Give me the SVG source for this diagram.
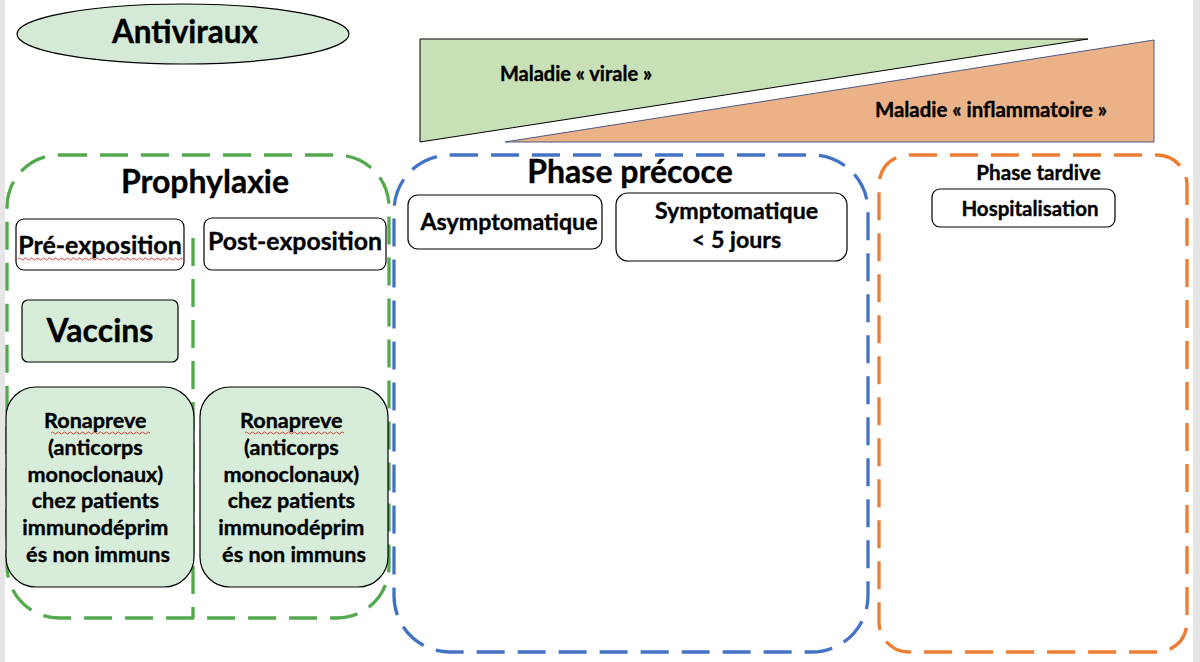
<svg xmlns="http://www.w3.org/2000/svg" width="1200" height="662" viewBox="0 0 1200 662">
<style>
  text { font-family: Lato, "Open Sans", "Liberation Sans", sans-serif; font-weight: bold; fill: #000; stroke: #000; stroke-width: 0.35; text-anchor: middle; }
  .box { fill: #fff; stroke: #000; stroke-width: 1.2; }
  .gbox { fill: #d7ecd9; stroke: #000; stroke-width: 1.2; }
  .dash { fill: none; stroke-width: 3.3; stroke-dasharray: 28 13; }
  .squig { fill: none; stroke: #e0322e; stroke-width: 0.9; }
</style>
<rect x="0" y="0" width="1200" height="662" fill="#fff"/>
<rect x="0" y="0" width="5" height="662" fill="#e6e6e6"/>
<rect x="1193" y="0" width="7" height="662" fill="#e6e6e6"/>

<g id="antiviraux">
  <ellipse cx="183" cy="34" rx="166" ry="30" fill="#d5ead6" stroke="#000" stroke-width="1.2"/>
  <text x="185" y="43" font-size="31.5">Antiviraux</text>
</g>

<g id="maladie-virale">
  <polygon points="420,39 1088,39 420,142" fill="#c8e0b6" stroke="#000" stroke-width="1"/>
  <text x="576" y="81" font-size="20">Maladie « virale »</text>
</g>

<g id="maladie-inflammatoire">
  <polygon points="505,142 1154,40 1154,142" fill="#ebb187" stroke="#4a5a8a" stroke-width="1"/>
  <text x="991" y="117" font-size="20.4">Maladie « inflammatoire »</text>
</g>

<g id="prophylaxie">
  <rect class="dash" x="7" y="155" width="382" height="463" rx="52" stroke="#52a94e"/>
  <line class="dash" x1="193" y1="238" x2="193" y2="618" stroke="#52a94e" stroke-width="2.5"/>
  <text x="205" y="193" font-size="32">Prophylaxie</text>
</g>

<g id="pre-exposition">
  <rect class="box" x="16" y="219" width="168" height="51" rx="8"/>
  <text x="100" y="254" font-size="25">Pré-exposition</text>
  <path class="squig" d="M18,259 q1.5,-2 3,0 t3,0 t3,0 t3,0 t3,0 t3,0 t3,0 t3,0 t3,0 t3,0 t3,0 t3,0 t3,0 t3,0 t3,0 t3,0 t3,0 t3,0 t3,0 t3,0 t3,0 t3,0 t3,0 t3,0 t3,0 t3,0 t3,0 t3,0 t3,0 t3,0 t3,0 t3,0 t3,0 t3,0 t3,0 t3,0 t3,0 t3,0 t3,0 t3,0 t3,0 t3,0 t3,0 t3,0 t3,0 t3,0 t3,0 t3,0 t3,0 t3,0 t3,0 t3,0 t3,0 t3,0 t3,0"/>
</g>

<g id="post-exposition">
  <rect class="box" x="204" y="218" width="182" height="52" rx="8"/>
  <text x="295" y="250" font-size="24.8">Post-exposition</text>
</g>

<g id="vaccins">
  <rect class="gbox" x="22" y="300" width="156" height="62" rx="6"/>
  <text x="100" y="342" font-size="32">Vaccins</text>
</g>

<g id="ronapreve-pre">
  <rect class="gbox" x="6" y="387" width="188" height="200" rx="30"/>
  <text font-size="21.6">
    <tspan x="98" y="428">Ronapreve</tspan>
    <tspan x="98" y="455">(anticorps</tspan>
    <tspan x="98" y="482">monoclonaux)</tspan>
    <tspan x="98" y="508">chez patients</tspan>
    <tspan x="98" y="535">immunodéprim</tspan>
    <tspan x="98" y="562">és non immuns</tspan>
  </text>
  <path class="squig" d="M51,433 q1.5,-2 3,0 t3,0 t3,0 t3,0 t3,0 t3,0 t3,0 t3,0 t3,0 t3,0 t3,0 t3,0 t3,0 t3,0 t3,0 t3,0 t3,0 t3,0 t3,0 t3,0 t3,0 t3,0 t3,0 t3,0 t3,0 t3,0 t3,0 t3,0 t3,0 t3,0 t3,0 t3,0 t3,0"/>
</g>

<g id="ronapreve-post">
  <rect class="gbox" x="200" y="387" width="188" height="200" rx="30"/>
  <text font-size="21.6">
    <tspan x="294" y="428">Ronapreve</tspan>
    <tspan x="294" y="455">(anticorps</tspan>
    <tspan x="294" y="482">monoclonaux)</tspan>
    <tspan x="294" y="508">chez patients</tspan>
    <tspan x="294" y="535">immunodéprim</tspan>
    <tspan x="294" y="562">és non immuns</tspan>
  </text>
  <path class="squig" d="M245,433 q1.5,-2 3,0 t3,0 t3,0 t3,0 t3,0 t3,0 t3,0 t3,0 t3,0 t3,0 t3,0 t3,0 t3,0 t3,0 t3,0 t3,0 t3,0 t3,0 t3,0 t3,0 t3,0 t3,0 t3,0 t3,0 t3,0 t3,0 t3,0 t3,0 t3,0 t3,0 t3,0 t3,0 t3,0"/>
</g>

<g id="phase-precoce">
  <rect class="dash" x="394" y="155" width="474" height="497" rx="56" stroke="#4472c4"/>
  <text x="630" y="183" font-size="32">Phase précoce</text>
</g>

<g id="asymptomatique">
  <rect class="box" x="408" y="195" width="194" height="54" rx="10"/>
  <text x="509" y="230" font-size="23.2">Asymptomatique</text>
</g>

<g id="symptomatique">
  <rect class="box" x="616" y="193" width="231" height="68" rx="12"/>
  <text x="736.5" y="219" font-size="23.2">Symptomatique</text>
  <text x="736.5" y="248" font-size="23.2">&lt; 5 jours</text>
</g>

<g id="phase-tardive">
  <rect class="dash" x="879" y="155" width="308" height="497" rx="30" stroke="#ed7d31"/>
  <text x="1038.5" y="180" font-size="20.7">Phase tardive</text>
</g>

<g id="hospitalisation">
  <rect class="box" x="932" y="189" width="183" height="38" rx="8"/>
  <text x="1030" y="216" font-size="20.5">Hospitalisation</text>
</g>

<g id="connectors"></g>
</svg>
